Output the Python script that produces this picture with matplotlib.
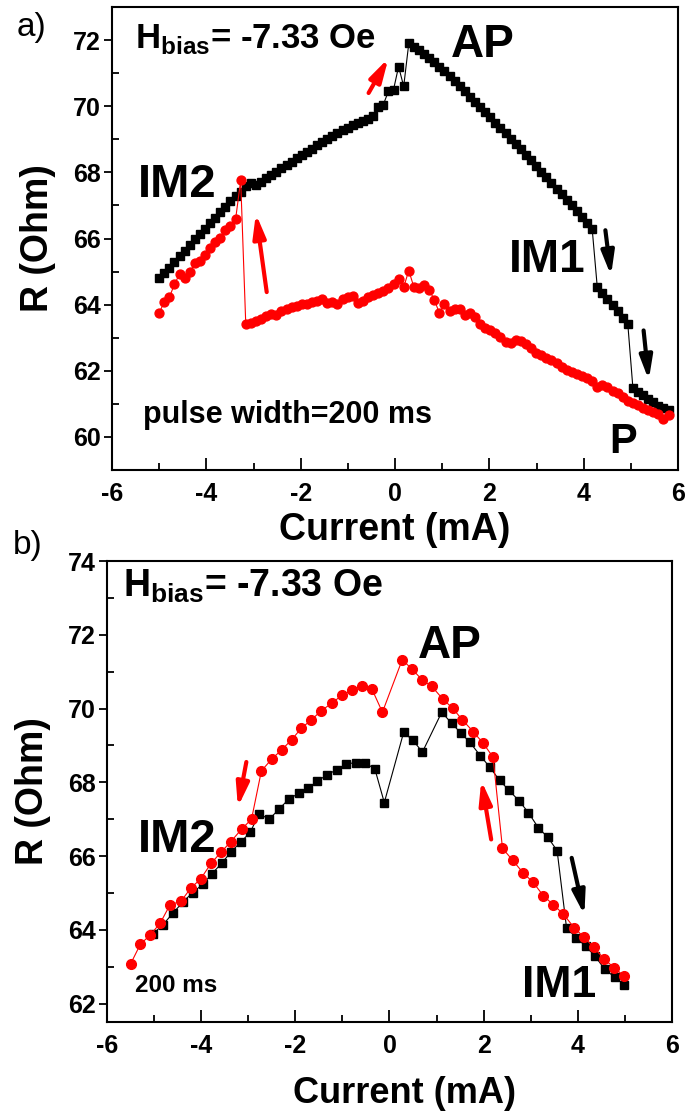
import numpy as np
import matplotlib
matplotlib.use("Agg")
import matplotlib.pyplot as plt
from matplotlib.ticker import MultipleLocator

plt.rcParams['font.family'] = ['Liberation Sans', 'DejaVu Sans']
plt.rcParams['font.weight'] = 'bold'
plt.rcParams['mathtext.fontset'] = 'custom'
plt.rcParams['mathtext.rm'] = 'Liberation Sans:bold'
plt.rcParams['mathtext.bf'] = 'Liberation Sans:bold'
plt.rcParams['axes.unicode_minus'] = False

# ---- a) 電流スイープ (101 点, -5 .. 5.8 mA)
current_a = np.linspace(-5.0, 5.8, 101)

r_black_a = [
    64.80, 64.95, 65.12, 65.30, 65.46, 65.62, 65.80, 65.97, 66.13, 66.30,
    66.46, 66.63, 66.80, 66.96, 67.12, 67.28, 67.42, 67.58, 67.68, 67.62,
    67.70, 67.82, 67.92, 68.02, 68.12, 68.22, 68.32, 68.42, 68.52, 68.62,
    68.72, 68.82, 68.92, 69.02, 69.10, 69.18, 69.27, 69.35, 69.42, 69.48,
    69.54, 69.62, 69.70, 69.98, 70.05, 70.45, 70.50, 71.20, 70.60, 71.90,
    71.80, 71.70, 71.58, 71.46, 71.34, 71.20, 71.06, 70.90, 70.75, 70.60,
    70.45, 70.29, 70.14, 69.98, 69.82, 69.66, 69.50, 69.34, 69.18, 69.02,
    68.86, 68.70, 68.53, 68.36, 68.19, 68.02, 67.85, 67.68, 67.51, 67.34,
    67.17, 67.00, 66.83, 66.66, 66.48, 66.29, 64.53, 64.35, 64.17, 63.98,
    63.80, 63.60, 63.40, 61.47, 61.36, 61.28, 61.15, 61.05, 60.95, 60.87,
    60.82,
]

r_red_a = [
    63.75, 64.08, 64.22, 64.62, 64.92, 64.82, 64.98, 65.25, 65.32, 65.50,
    65.70, 65.88, 66.02, 66.27, 66.38, 66.58, 67.76, 63.40, 63.46, 63.52,
    63.58, 63.66, 63.72, 63.70, 63.80, 63.87, 63.92, 63.97, 64.02, 64.03,
    64.08, 64.12, 64.16, 64.05, 64.08, 64.02, 64.18, 64.22, 64.25, 64.05,
    64.12, 64.24, 64.30, 64.35, 64.40, 64.50, 64.62, 64.78, 64.53, 65.03,
    64.53, 64.50, 64.58, 64.45, 64.15, 63.75, 64.03, 63.80, 63.88, 63.88,
    63.70, 63.75, 63.62, 63.42, 63.30, 63.22, 63.15, 63.02, 62.88, 62.85,
    62.92, 62.90, 62.80, 62.68, 62.55, 62.48, 62.40, 62.32, 62.25, 62.12,
    62.03, 61.97, 61.90, 61.84, 61.78, 61.68, 61.50, 61.56, 61.50, 61.40,
    61.33, 61.22, 61.10, 61.02, 60.96, 60.88, 60.80, 60.75, 60.68, 60.55,
    60.67,
]

# ---- b)
current_black_b = [
    -5.02, -4.81, -4.60, -4.39, -4.18, -3.96, -3.77, -3.56, -3.36, -3.15,
    -2.96, -2.77, -2.55, -2.35, -2.14, -1.93, -1.73, -1.53, -1.33, -1.12,
    -0.92, -0.72, -0.51, -0.31, -0.11, 0.30, 0.49, 0.70, 1.11, 1.32,
    1.52, 1.71, 1.93, 2.13, 2.34, 2.54, 2.75, 2.95, 3.16, 3.36,
    3.56, 3.76, 3.96, 4.17, 4.37, 4.57, 4.78, 4.99,
]
r_black_b = [
    63.89, 64.14, 64.45, 64.75, 65.01, 65.24, 65.52, 65.81, 66.12, 66.39,
    66.64, 67.14, 67.00, 67.27, 67.54, 67.70, 67.84, 68.03, 68.20, 68.34,
    68.50, 68.53, 68.52, 68.36, 67.45, 69.35, 69.15, 68.82, 69.90, 69.60,
    69.33, 69.08, 68.72, 68.41, 68.05, 67.78, 67.50, 67.18, 66.77, 66.51,
    66.15, 64.06, 63.79, 63.55, 63.28, 62.93, 62.72, 62.50,
]

current_red_b = [
    -5.50, -5.29, -5.08, -4.87, -4.66, -4.43, -4.22, -4.01, -3.79, -3.58,
    -3.37, -3.14, -2.93, -2.72, -2.50, -2.29, -2.08, -1.87, -1.66, -1.45,
    -1.23, -1.00, -0.79, -0.58, -0.37, -0.15, 0.27, 0.48, 0.69, 0.90,
    1.13, 1.34, 1.55, 1.78, 1.99, 2.20, 2.40, 2.62, 2.84, 3.05,
    3.27, 3.48, 3.69, 3.92, 4.13, 4.34, 4.56, 4.77, 4.99,
]
r_red_b = [
    63.07, 63.61, 63.86, 64.18, 64.68, 64.77, 65.13, 65.38, 65.80, 66.10,
    66.39, 66.73, 67.00, 68.31, 68.63, 68.88, 69.15, 69.47, 69.69, 69.94,
    70.14, 70.37, 70.49, 70.62, 70.52, 69.90, 71.32, 71.07, 70.78, 70.60,
    70.26, 70.01, 69.69, 69.37, 69.06, 68.68, 66.21, 65.88, 65.54, 65.29,
    64.92, 64.68, 64.43, 64.06, 63.80, 63.52, 63.21, 62.97, 62.74,
]

RED = '#ff0000'


def style_axes(ax, ymin, ymax):
    ax.set_xlim(-6, 6)
    ax.set_ylim(ymin, ymax)
    ax.xaxis.set_major_locator(MultipleLocator(2))
    ax.xaxis.set_minor_locator(MultipleLocator(1))
    ax.yaxis.set_major_locator(MultipleLocator(2))
    ax.yaxis.set_minor_locator(MultipleLocator(1))
    ax.tick_params(axis='x', which='major', direction='in', length=9, width=1.3,
                   labelsize=18, pad=9, top=False)
    ax.tick_params(axis='x', which='minor', direction='in', length=5, width=1.3, top=False)
    ax.tick_params(axis='y', which='major', direction='out', length=6, width=1.3,
                   labelsize=18, pad=2, right=False)
    ax.tick_params(axis='y', which='minor', direction='in', length=5, width=1.3, right=False)
    for lab in ax.get_xticklabels() + ax.get_yticklabels():
        lab.set_fontweight('bold')
    for s in ax.spines.values():
        s.set_linewidth(1.5)
    ax.set_ylabel('R (Ohm)', fontsize=27, fontweight='bold', labelpad=12)


def arrow(ax, tail, head, color):
    ax.annotate('', xy=head, xytext=tail,
                arrowprops=dict(arrowstyle='-|>,head_length=1.4,head_width=0.38',
                                lw=3.0, color=color, shrinkA=0, shrinkB=0,
                                mutation_scale=10))


fig = plt.figure(figsize=(6.88, 11.14), dpi=100)

# ---------------- a)
ax1 = fig.add_axes([0.1628, 0.5781, 0.8227, 0.4156])
ax1.plot(current_a, r_black_a, '-s', color='black', lw=0.8, ms=5.8, mec='black')
ax1.plot(current_a, r_red_a, '-o', color=RED, lw=0.8, ms=6.4, mec=RED)
style_axes(ax1, 59, 73)
ax1.set_xlabel('Current (mA)', fontsize=27, fontweight='bold', labelpad=4)

ax1.text(-5.52, 71.76, r'H$_{\mathbf{bias}}$= -7.33 Oe', fontsize=25, fontweight='bold')
ax1.text(1.19, 71.49, 'AP', fontsize=33, fontweight='bold')
ax1.text(-5.45, 67.25, 'IM2', fontsize=34, fontweight='bold')
ax1.text(2.42, 64.99, 'IM1', fontsize=33, fontweight='bold')
ax1.text(4.54, 59.52, 'P', fontsize=30, fontweight='bold')
ax1.text(-5.35, 60.42, 'pulse width=200 ms', fontsize=22, fontweight='bold')

arrow(ax1, (-0.56, 70.40), (-0.14, 71.45), RED)
arrow(ax1, (-2.72, 64.38), (-2.95, 66.75), RED)
arrow(ax1, (4.46, 66.25), (4.58, 64.88), 'black')
arrow(ax1, (5.27, 63.22), (5.38, 61.72), 'black')

fig.text(0.024, 0.968, 'a)', fontsize=24, fontweight='normal')

# ---------------- b)
ax2 = fig.add_axes([0.1555, 0.0826, 0.8212, 0.4138])
ax2.plot(current_black_b, r_black_b, '-s', color='black', lw=0.8, ms=5.6, mec='black')
ax2.plot(current_red_b, r_red_b, '-o', color=RED, lw=0.8, ms=7.0, mec=RED)
style_axes(ax2, 61.5, 74)
ax2.set_xlabel('Current (mA)', fontsize=26, fontweight='bold')
ax2.xaxis.set_label_coords(0.527, -0.117)

ax2.text(-5.67, 73.02, r'H$_{\mathbf{bias}}$= -7.33 Oe', fontsize=27, fontweight='bold')
ax2.text(0.61, 71.37, 'AP', fontsize=33, fontweight='bold')
ax2.text(-5.35, 66.11, 'IM2', fontsize=34, fontweight='bold')
ax2.text(2.81, 62.18, 'IM1', fontsize=32, fontweight='bold')
ax2.text(-5.40, 62.32, '200 ms', fontsize=17.5, fontweight='bold')

arrow(ax2, (-3.04, 68.55), (-3.22, 67.33), RED)
arrow(ax2, (2.16, 66.45), (1.95, 68.05), RED)
arrow(ax2, (3.87, 65.95), (4.14, 64.4), 'black')

fig.text(0.019, 0.503, 'b)', fontsize=24, fontweight='normal')

fig.savefig('out.png', dpi=100)
